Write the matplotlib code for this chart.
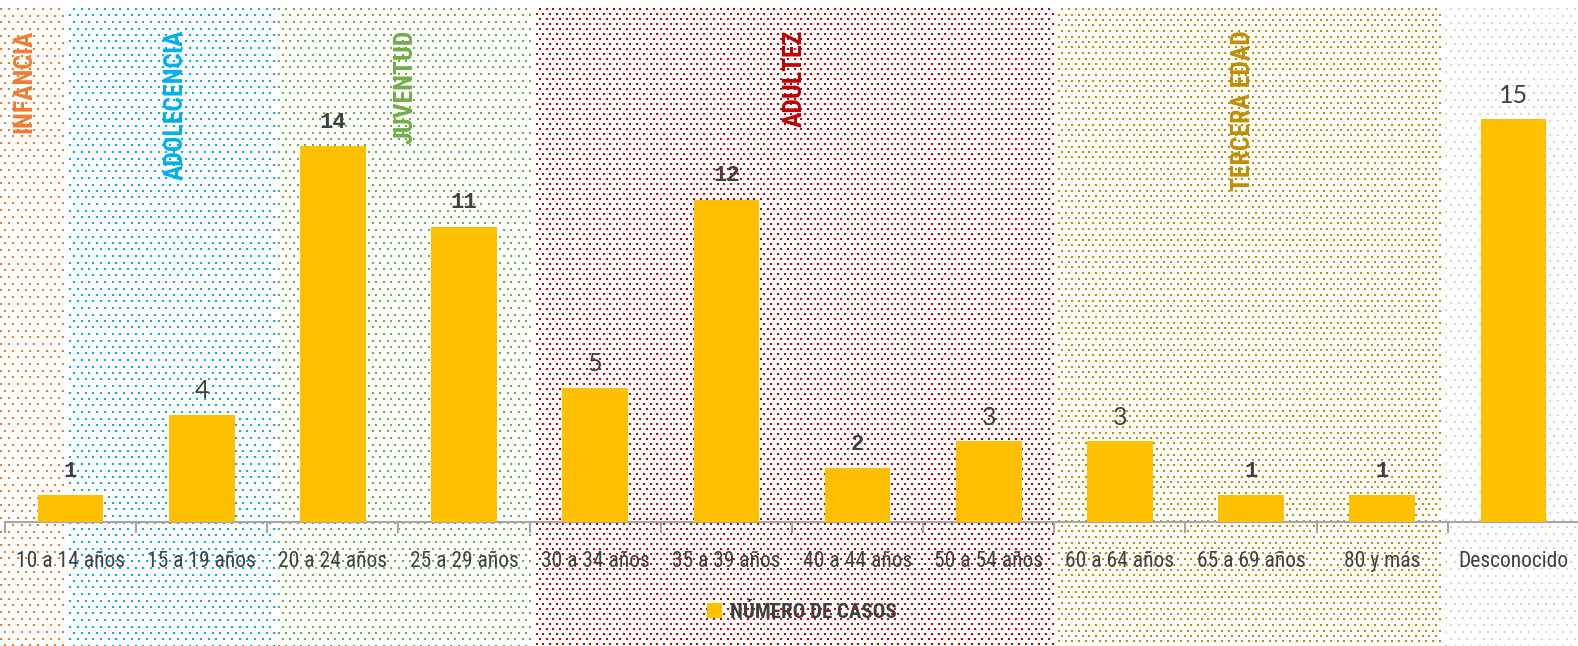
import numpy as np
import matplotlib
matplotlib.use("Agg")
import matplotlib.pyplot as plt
from matplotlib import font_manager as fm

# ---------------- data ----------------
categories = ['10 a 14 años', '15 a 19 años', '20 a 24 años', '25 a 29 años',
              '30 a 34 años', '35 a 39 años', '40 a 44 años', '50 a 54 años',
              '60 a 64 años', '65 a 69 años', '80 y más', 'Desconocido']
values = [1, 4, 14, 11, 5, 12, 2, 3, 3, 1, 1, 15]
series_name = 'NÚMERO DE CASOS'

stage_names = ['INFANCIA', 'ADOLECENCIA', 'JUVENTUD', 'ADULTEZ', 'TERCERA EDAD', '']
# stage band edges in category units (first/last extend to figure edges)
stage_edges = [-0.54, -0.04, 1.58, 3.52, 7.50, 10.45, 11.52]
stage_label_x = [-0.35, 0.80, 2.55, 5.52, 8.94]

stage_colors = ['#ED7D31', '#00B0F0', '#70AD47', '#C00000', '#BF9000', '#D4D4D4']
stage_spacing = [(8.3, 6.7), (7.7, 6.5), (7.5, 6.5), (6.7, 5.0), (6.8, 5.5), (8.3, 7.0)]

# ---------------- fonts ----------------
def _w(f):
    wt = f.weight
    if isinstance(wt, str):
        return fm.weight_dict.get(wt, 400)
    return int(wt)

cand = [f for f in fm.fontManager.ttflist
        if ('Narrow' in f.name or 'Condensed' in f.name)
        and not any(k in f.name for k in ('Extra', 'Semi', 'Ultra'))]
priority = ['Roboto Condensed', 'Liberation Sans Narrow', 'Noto Sans Condensed',
            'Open Sans Condensed', 'DejaVu Sans Condensed']

def pick(lo, hi):
    names = {f.name for f in cand if lo <= _w(f) <= hi and f.style == 'normal'}
    for p in priority:
        if p in names:
            return p
    if names:
        return sorted(names, key=len)[0]
    return None

reg_name = pick(300, 400) or 'Roboto'
bold_name = pick(600, 900) or 'Roboto'
reg_family = [reg_name, 'DejaVu Sans']
bold_family = [bold_name, 'DejaVu Sans']

W, H = 1578, 646
fig = plt.figure(figsize=(W / 100, H / 100), dpi=100)
fig.patch.set_facecolor('white')

ax_left, ax_right = 5, 1579
ax_bottom_px, ax_top_px = 522, 8
ax = fig.add_axes([ax_left / W, (H - ax_bottom_px) / H,
                   (ax_right - ax_left) / W, (ax_bottom_px - ax_top_px) / H])
ax.set_facecolor('none')
n = len(categories)
ax.set_xlim(-0.5, n - 0.5)
ymax = (ax_bottom_px - ax_top_px) / 26.85
ax.set_ylim(0, ymax)

# ---------------- dotted stage bands (background) ----------------
fig.canvas.draw()
def data_to_px(xv):
    return ax.transData.transform((xv, 0))[0]

img = np.ones((H, W, 4))
top = 8
for i, col in enumerate(stage_colors):
    x0 = 0 if i == 0 else data_to_px(stage_edges[i])
    x1 = W if i == len(stage_colors) - 1 else data_to_px(stage_edges[i + 1])
    dx, dy = stage_spacing[i]
    rgba = matplotlib.colors.to_rgba(col)
    r = 0
    while True:
        y = int(round(top + r * dy))
        if y >= H:
            break
        off = (r % 2) * dx / 2
        for xv in np.arange(x0 + off, x1 - 1, dx):
            xi = int(round(xv))
            if xi < x0 or xi + 2 > x1 + 1:
                continue
            img[y:y + 2, xi:xi + 2] = rgba
        r += 1
fig.figimage(img, xo=0, yo=0, origin='upper', zorder=-5)

# ---------------- bars ----------------
x = np.arange(n)
bars = ax.bar(x, values, width=0.5, color='#FFC000', edgecolor='none',
              label=series_name, zorder=3)

sans_idx = {1, 4, 7, 8, 11}
for xi, v in zip(x, values):
    if xi in sans_idx:
        ax.annotate(str(v), (xi, v), xytext=(0, 24), textcoords='offset pixels',
                    ha='center', va='center', fontsize=18, color='#404040',
                    family=['Lato', 'DejaVu Sans'], zorder=4)
    else:
        ax.annotate(str(v), (xi, v), xytext=(0, 24), textcoords='offset pixels',
                    ha='center', va='center', fontsize=16, color='#404040',
                    family=['Liberation Mono', 'DejaVu Sans Mono'],
                    fontweight='bold', zorder=4)

# ---------------- stage labels ----------------
label_y = ymax - 22 / 26.85
for name, lx, col in zip(stage_names[:5], stage_label_x, stage_colors[:5]):
    ax.text(lx, label_y, name, rotation=90, ha='center', va='top',
            color=col, fontsize=18.5, fontweight='bold', family=bold_family)

# ---------------- axes styling ----------------
for s in ['top', 'right', 'left']:
    ax.spines[s].set_visible(False)
ax.spines['bottom'].set_color('#A6A6A6')
ax.spines['bottom'].set_linewidth(1.5)
ax.set_yticks([])
ax.set_xticks(x)
ax.set_xticklabels(categories, family=reg_family, fontsize=15.5, color='#404040')
ax.tick_params(axis='x', which='major', length=0, pad=21)
ax.set_xticks(np.arange(-0.5, n, 1.0), minor=True)
ax.tick_params(axis='x', which='minor', length=8, width=1.5, color='#A6A6A6')

leg = fig.legend(handles=[bars], labels=[series_name], loc='center',
                 bbox_to_anchor=(0.508, 34 / H), frameon=False,
                 handlelength=0.75, handleheight=0.75, handletextpad=0.35,
                 prop={'family': bold_family, 'size': 15, 'weight': 'bold'})
for t in leg.get_texts():
    t.set_color('#404040')

fig.savefig('out.png', dpi=100, facecolor='white')
